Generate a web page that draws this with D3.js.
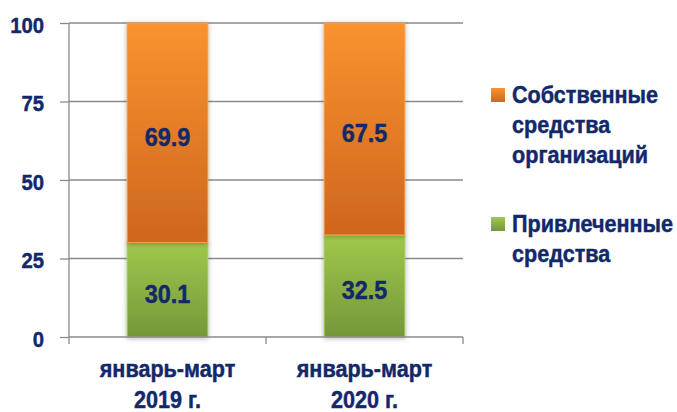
<!DOCTYPE html>
<html>
<head>
<meta charset="utf-8">
<script src="https://cdn.jsdelivr.net/npm/d3@7"></script>
<style>
  body { margin: 0; background: #fff; }
  text { font-family: "Liberation Sans", Arial, sans-serif; font-weight: bold; fill: #12286a;
         stroke: #12286a; stroke-width: 0.45px; }
</style>
</head>
<body>
<div id="chart"></div>
<script>
const categories = [["январь-март", "2019 г."], ["январь-март", "2020 г."]];
const attracted = [30.1, 32.5];
const own = [69.9, 67.5];
const yTicks = [0, 25, 50, 75, 100];
const legendLabels = [
  ["Собственные", "средства", "организаций"],
  ["Привлеченные", "средства"]
];

const width = 677, height = 412;
const margin = {top: 23, right: 214, bottom: 75, left: 69};
const plotW = width - margin.left - margin.right,
      plotH = height - margin.top - margin.bottom;
const squeeze = 0.9; // the source font is a narrow bold face

const svg = d3.select("#chart").append("svg")
    .attr("width", width)
    .attr("height", height);

const defs = svg.append("defs");
function gradient(id, top, bottom) {
  const g = defs.append("linearGradient").attr("id", id)
      .attr("x1", 0).attr("y1", 0).attr("x2", 0).attr("y2", 1);
  g.append("stop").attr("offset", "0%").attr("stop-color", top);
  g.append("stop").attr("offset", "100%").attr("stop-color", bottom);
}
gradient("gOrange", "#f9932f", "#ce661e");
gradient("gGreen", "#a0c84c", "#75973a");

const shadow = defs.append("filter").attr("id", "shadow")
    .attr("x", "-20%").attr("y", "-10%").attr("width", "140%").attr("height", "120%");
shadow.append("feDropShadow").attr("dx", 0).attr("dy", 1).attr("stdDeviation", 2.5)
    .attr("flood-color", "#000").attr("flood-opacity", 0.3);

const g = svg.append("g").attr("transform", `translate(${margin.left},${margin.top})`);

const x = d3.scaleBand().domain(d3.range(categories.length)).range([0, plotW]).paddingInner(0.59).paddingOuter(0.295);
const y = d3.scaleLinear().domain([0, 100]).range([plotH, 0]);

// gridlines
g.append("g").selectAll("line").data(yTicks.filter(d => d > 0)).enter().append("line")
    .attr("x1", 0).attr("x2", plotW)
    .attr("y1", d => y(d)).attr("y2", d => y(d))
    .attr("stroke", "#8a8a8a").attr("stroke-width", 1.3);

// y axis
const yAxis = g.append("g")
    .call(d3.axisLeft(y).tickValues(yTicks).tickSize(9).tickPadding(16));
yAxis.select(".domain").remove();
yAxis.selectAll(".tick line").attr("stroke", "#8a8a8a").attr("stroke-width", 1.3);
yAxis.selectAll(".tick text").style("font-size", "22.5px")
    .attr("x", -25 / squeeze).attr("dy", "0.42em")
    .attr("transform", `scale(${squeeze},1)`);
g.append("line").attr("x1", 0).attr("x2", 0).attr("y1", 0).attr("y2", plotH + 7)
    .attr("stroke", "#8a8a8a").attr("stroke-width", 1.3);

// bars
const bars = g.append("g").selectAll("g").data(categories.map((c, i) => i)).enter().append("g");
bars.append("rect")
    .attr("x", i => x(i)).attr("width", x.bandwidth())
    .attr("y", i => y(attracted[i])).attr("height", i => y(0) - y(attracted[i]))
    .attr("fill", "url(#gGreen)").attr("stroke", "#a8cf5c").attr("stroke-width", 1)
    .attr("filter", "url(#shadow)");
bars.append("rect")
    .attr("x", i => x(i)).attr("width", x.bandwidth())
    .attr("y", i => y(attracted[i] + own[i])).attr("height", i => y(attracted[i]) - y(attracted[i] + own[i]))
    .attr("fill", "url(#gOrange)").attr("stroke", "#f8a04c").attr("stroke-width", 1)
    .attr("filter", "url(#shadow)");

function valueLabel(yOf, val) {
  bars.append("g")
      .attr("transform", i => `translate(${x(i) + x.bandwidth() / 2},${y(yOf(i))}) scale(${squeeze},1)`)
    .append("text")
      .attr("dy", "0.5em").attr("text-anchor", "middle").style("font-size", "26px")
      .text(i => val(i).toFixed(1));
}
valueLabel(i => attracted[i] / 2, i => attracted[i]);
valueLabel(i => attracted[i] + own[i] / 2, i => own[i]);

// x axis
const step = x.step();
const boundaries = d3.range(categories.length + 1).map(i => i === 0 ? 0 : x(i - 1) + x.bandwidth() + step * 0.59 / 2);
g.append("line").attr("x1", 0).attr("x2", plotW).attr("y1", plotH).attr("y2", plotH)
    .attr("stroke", "#8a8a8a").attr("stroke-width", 1.5);
g.append("g").selectAll("line").data(boundaries.slice(1)).enter().append("line")
    .attr("x1", d => d).attr("x2", d => d).attr("y1", plotH).attr("y2", plotH + 7)
    .attr("stroke", "#8a8a8a").attr("stroke-width", 1.3);

const xl = g.append("g").selectAll("g").data(categories).enter().append("g")
    .attr("transform", (d, i) => `translate(${x(i) + x.bandwidth() / 2},${plotH + 40}) scale(${squeeze},1)`)
  .append("text")
    .attr("text-anchor", "middle").style("font-size", "24px");
xl.selectAll("tspan").data(d => d).enter().append("tspan")
    .attr("x", 0).attr("dy", (d, j) => j === 0 ? 0 : 31).text(d => d);

// legend
const legendColors = ["url(#gOrange)", "url(#gGreen)"];
const legendTop = [103, 232];
const legend = svg.append("g").selectAll("g").data(legendLabels).enter().append("g")
    .attr("transform", (d, i) => `translate(491,${legendTop[i]})`);
legend.append("rect").attr("x", 0).attr("y", -15).attr("width", 14).attr("height", 14)
    .attr("fill", (d, i) => legendColors[i]);
const lt = legend.append("g").attr("transform", `translate(21,0) scale(${squeeze},1)`)
  .append("text").style("font-size", "24px");
lt.selectAll("tspan").data(d => d).enter().append("tspan")
    .attr("x", 0).attr("dy", (d, j) => j === 0 ? 0 : 30).text(d => d);
</script>
</body>
</html>
